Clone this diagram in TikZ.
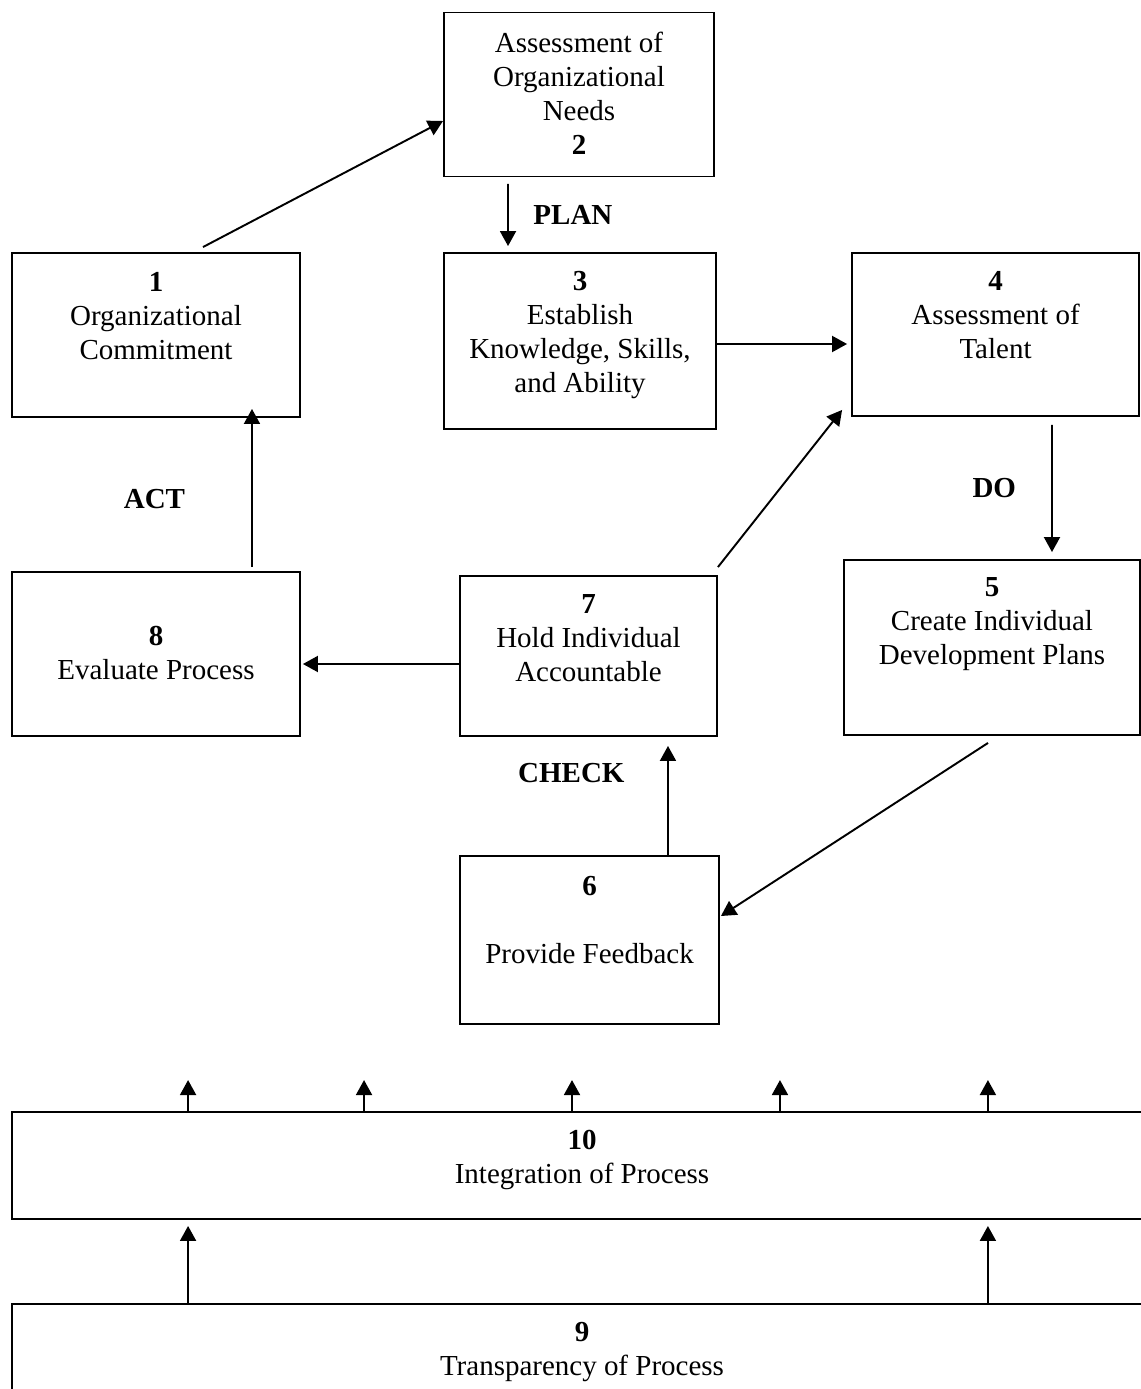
\documentclass[tikz,border=0pt]{standalone}
\usepackage{fontspec}
\setmainfont{Liberation Serif}
\usetikzlibrary{arrows.meta,positioning}

\tikzset{
	box/.style={draw, line width=1.1pt, inner sep=0pt},
	txt/.style={align=center, inner sep=0pt, font=\fontsize{16.5pt}{19.3pt}\selectfont},
	lbl/.style={inner sep=0pt, font=\fontsize{16.5pt}{19.3pt}\selectfont\bfseries},
	arr/.style={line width=1.1pt, -{Triangle[length=0.3cm,width=0.32cm]}}
}

\begin{document}
\begin{tikzpicture}[x=0.02cm, y=-0.02cm]
		\useasboundingbox (0,0) rectangle (1141,1389);
		
		% Top row
		\node[box, minimum width=5.76cm, minimum height=3.28cm] (b1) at (156,335) {};
		\node[txt, below=0.40cm of b1.north] (t1) {\textbf{1}\\Organizational\\Commitment};
		
		\node[box, minimum width=5.40cm, minimum height=3.28cm] (b2) at (579,94.5) {};
		\node[txt, below=0.40cm of b2.north] (t2) {Assessment of\\Organizational\\Needs\\\textbf{2}};
		
		\node[box, minimum width=5.44cm, minimum height=3.52cm] (b3) at (580,341) {};
		\node[txt, below=0.38cm of b3.north] (t3) {\textbf{3}\\Establish\\Knowledge, Skills,\\and Ability};
		
		\node[box, minimum width=5.74cm, minimum height=3.26cm] (b4) at (995.5,334.5) {};
		\node[txt, below=0.38cm of b4.north] (t4) {\textbf{4}\\Assessment of\\Talent};
		
		% Middle row
		\node[box, minimum width=5.76cm, minimum height=3.28cm] (b8) at (156,654) {};
		\node[txt, below=1.10cm of b8.north] (t8) {\textbf{8}\\Evaluate Process};
		
		\node[box, minimum width=5.14cm, minimum height=3.20cm] (b7) at (588.5,656) {};
		\node[txt, below=0.38cm of b7.north] (t7) {\textbf{7}\\Hold Individual\\Accountable};
		
		\node[box, minimum width=5.92cm, minimum height=3.50cm] (b5) at (992,647.5) {};
		\node[txt, below=0.36cm of b5.north] (t5) {\textbf{5}\\Create Individual\\Development Plans};
		
		\node[box, minimum width=5.18cm, minimum height=3.36cm] (b6) at (589.5,940) {};
		\node[txt, below=0.42cm of b6.north] (t6) {\textbf{6}\\[19.3pt]Provide Feedback};
		
		% Bottom bars
		\node[box, minimum width=22.8cm, minimum height=2.14cm] (b10) at (582,1165.5) {};
		\node[txt, below=0.38cm of b10.north] (t10) {\textbf{10}\\Integration of Process};
		
		\node[box, minimum width=22.8cm, minimum height=1.92cm] (b9) at (582,1352) {};
		\node[txt, below=0.38cm of b9.north] (t9) {\textbf{9}\\Transparency of Process};
		
		% PLAN
		\draw[arr] ([xshift=0.94cm,yshift=0.10cm]b1.north) -- ([yshift=-0.53cm]b2.west);
		\draw[arr] ([xshift=-1.42cm,yshift=-0.13cm]b2.south) -- ([xshift=-1.44cm,yshift=0.12cm]b3.north)
			node[lbl, midway, right=0.49cm] (plan) {PLAN};
		\draw[arr] ([yshift=-0.06cm]b3.east) -- ([xshift=-0.08cm,yshift=-0.19cm]b4.west);
		
		% DO
		\draw[arr] ([xshift=1.13cm,yshift=-0.16cm]b4.south) -- ([xshift=1.20cm,yshift=0.14cm]b5.north)
			node[lbl, midway, left=0.70cm] (do) {DO};
		\draw[arr] ([xshift=-0.08cm,yshift=-0.14cm]b5.south) -- ([xshift=0.02cm,yshift=0.48cm]b6.east);
		
		% CHECK
		\draw[arr] ([xshift=1.57cm]b6.north) -- ([xshift=1.59cm,yshift=-0.18cm]b7.south)
			node[lbl, pos=0.75, left=0.85cm] (check) {CHECK};
		\draw[arr] ([yshift=0.16cm]b7.north east) -- ([xshift=-0.18cm,yshift=0.14cm]b4.south west);
		\draw[arr] ([yshift=-0.16cm]b7.west) -- ([xshift=0.04cm,yshift=-0.20cm]b8.east);
		
		% ACT
		\draw[arr] ([xshift=1.92cm,yshift=0.08cm]b8.north) -- ([xshift=1.92cm,yshift=0.18cm]b1.south)
			node[lbl, pos=0.43, left=1.32cm] (act) {ACT};
		
		% Integration arrows
		\foreach \dx in {-7.88,-4.36,-0.20,3.96,8.12}
			\draw[arr] ([xshift=\dx cm]b10.north) -- ([xshift=\dx cm,yshift=0.62cm]b10.north);
		\foreach \dx in {-7.88,8.12}
			\draw[arr] ([xshift=\dx cm]b9.north) -- ([xshift=\dx cm,yshift=-0.12cm]b10.south);
		
\end{tikzpicture}
\end{document}
